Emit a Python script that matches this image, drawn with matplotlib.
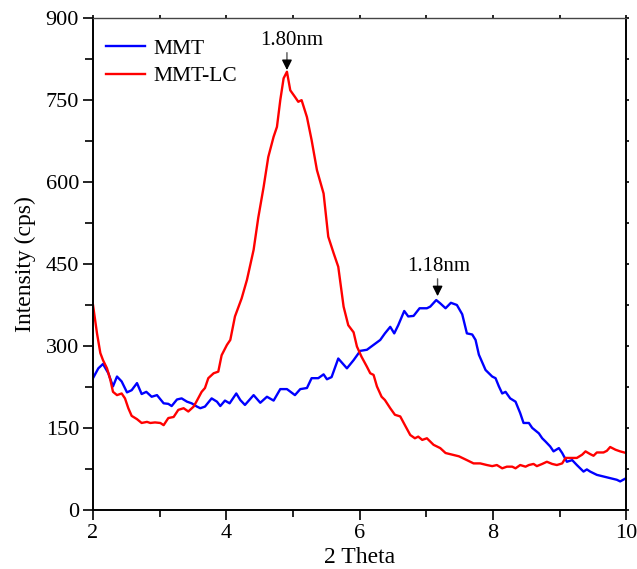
import matplotlib.pyplot as plt
import numpy as np
from matplotlib.ticker import MultipleLocator

plt.rcParams['font.family'] = ['Liberation Serif', 'DejaVu Serif']

# MMT curve (2 theta, intensity)
mmt_x = [2.00, 2.08, 2.15, 2.23, 2.30, 2.36, 2.43, 2.51, 2.58, 2.66, 2.73, 2.80, 2.88, 2.96,
         3.06, 3.13, 3.18, 3.26, 3.33, 3.41, 3.48, 3.56, 3.61, 3.68, 3.78, 3.86, 3.91, 3.98,
         4.05, 4.15, 4.21, 4.28, 4.41, 4.51, 4.61, 4.71, 4.81, 4.91, 5.03, 5.11, 5.21, 5.28,
         5.38, 5.46, 5.51, 5.58, 5.68, 5.81, 5.91, 6.01, 6.11, 6.21, 6.31, 6.38, 6.46, 6.52,
         6.58, 6.67, 6.73, 6.81, 6.90, 7.01, 7.06, 7.15, 7.21, 7.29, 7.37, 7.46, 7.54, 7.61,
         7.69, 7.74, 7.79, 7.89, 7.99, 8.04, 8.09, 8.14, 8.19, 8.26, 8.34, 8.41, 8.46, 8.54,
         8.59, 8.69, 8.74, 8.79, 8.86, 8.91, 8.99, 9.04, 9.11, 9.19, 9.26, 9.36, 9.41, 9.46,
         9.56, 9.66, 9.76, 9.86, 9.91, 10.00]
mmt_y = [241, 259, 267, 250, 226, 244, 235, 215, 219, 232, 212, 216, 207, 210,
         195, 194, 190, 202, 204, 198, 195, 189, 186, 189, 204, 198, 190, 200,
         195, 213, 201, 192, 210, 196, 207, 200, 221, 221, 210, 221, 223, 241,
         241, 248, 239, 243, 277, 259, 274, 291, 293, 302, 311, 323, 335, 323,
         338, 364, 354, 355, 369, 369, 372, 384, 378, 369, 379, 375, 358, 323,
         321, 311, 284, 256, 244, 241, 226, 213, 216, 204, 198, 177, 159, 159,
         150, 140, 131, 125, 116, 107, 113, 104, 88, 91, 82, 70, 74, 70,
         64, 61, 58, 55, 52, 58]

# MMT-LC curve
lc_x = [2.00, 2.06, 2.11, 2.15, 2.21, 2.26, 2.30, 2.36, 2.43, 2.48, 2.53, 2.58, 2.66, 2.73,
        2.81, 2.86, 2.93, 3.01, 3.06, 3.13, 3.21, 3.28, 3.36, 3.43, 3.51, 3.56, 3.63, 3.68,
        3.73, 3.81, 3.88, 3.93, 4.01, 4.06, 4.13, 4.23, 4.31, 4.41, 4.48, 4.56, 4.63, 4.71,
        4.76, 4.81, 4.86, 4.91, 4.96, 5.03, 5.08, 5.13, 5.21, 5.28, 5.36, 5.46, 5.53, 5.61,
        5.68, 5.76, 5.83, 5.91, 5.96, 6.03, 6.11, 6.16, 6.21, 6.26, 6.33, 6.38, 6.46, 6.53,
        6.61, 6.68, 6.76, 6.83, 6.88, 6.94, 7.01, 7.06, 7.11, 7.21, 7.29, 7.39, 7.49, 7.61,
        7.71, 7.81, 7.91, 7.99, 8.06, 8.14, 8.21, 8.29, 8.34, 8.41, 8.49, 8.54, 8.61, 8.66,
        8.74, 8.81, 8.89, 8.96, 9.04, 9.09, 9.16, 9.26, 9.34, 9.39, 9.46, 9.51, 9.56, 9.66,
        9.71, 9.76, 9.84, 9.91, 10.00]
lc_y = [375, 323, 287, 274, 259, 238, 216, 210, 213, 204, 186, 172, 166, 159,
        161, 159, 160, 159, 155, 168, 170, 183, 186, 180, 189, 200, 216, 223,
        241, 250, 253, 283, 302, 311, 354, 387, 421, 476, 535, 591, 646, 683,
        701, 750, 790, 802, 768, 756, 747, 750, 719, 677, 622, 579, 500, 470,
        445, 372, 338, 325, 299, 280, 262, 250, 247, 226, 207, 201, 186, 174,
        171, 155, 137, 131, 134, 128, 131, 125, 119, 113, 104, 101, 98, 91,
        85, 85, 82, 80, 82, 76, 79, 79, 76, 82, 79, 82, 84, 80,
        84, 88, 84, 82, 85, 95, 95, 95, 101, 107, 102, 99, 105, 105,
        108, 115, 110, 107, 104]

fig = plt.figure(figsize=(6.37, 5.69), dpi=100)
ax = fig.add_axes([0.146, 0.104, 0.837, 0.864])

ax.plot(mmt_x, mmt_y, color='#0000ff', lw=1.7, label='MMT')
ax.plot(lc_x, lc_y, color='#ff0000', lw=1.7, label='MMT-LC')

# peak annotations: grey shaft, black head
for px, py, txt, tx in [(4.91, 800, '1.80nm', 4.98), (7.17, 386, '1.18nm', 7.18)]:
    ax.annotate('', xy=(px, py + 12), xytext=(px, py + 42),
                arrowprops=dict(arrowstyle='-', color='#555555', lw=1.0))
    ax.annotate('', xy=(px, py), xytext=(px, py + 16),
                arrowprops=dict(arrowstyle='-|>', color='black', lw=1.0, mutation_scale=15))
    ax.text(tx, py + 42, txt, ha='center', va='bottom', fontsize=15)

ax.set_xlim(2, 10)
ax.set_ylim(0, 900)
ax.xaxis.set_major_locator(MultipleLocator(2))
ax.xaxis.set_minor_locator(MultipleLocator(1))
ax.yaxis.set_major_locator(MultipleLocator(150))
ax.yaxis.set_minor_locator(MultipleLocator(75))
ax.tick_params(which='both', direction='out', labelsize=16, width=1.2, pad=3)
ax.tick_params(which='major', length=7)
ax.tick_params(which='minor', length=5)
ax.tick_params(axis='y', which='minor', length=6)

# short secondary ticks on top and right
ax.tick_params(axis='x', which='both', top=True, labeltop=False)
ax.tick_params(axis='y', which='both', right=True, labelright=False)
for s in ax.spines.values():
    s.set_linewidth(1.4)
ax.spines['top'].set_color('#444444')
ax.spines['top'].set_linewidth(1.0)
for t in ax.xaxis.get_major_ticks() + ax.xaxis.get_minor_ticks():
    t.tick2line.set_markersize(2)
    t.tick2line.set_color('#444444')
for t in ax.yaxis.get_major_ticks() + ax.yaxis.get_minor_ticks():
    t.tick2line.set_markersize(2)

ax.set_xlabel('2 Theta', fontsize=17, labelpad=3)
ax.set_ylabel('Intensity (cps)', fontsize=17)
ax.yaxis.set_label_coords(-0.107, 0.5)

ax.legend(loc='upper left', bbox_to_anchor=(0.0, 0.985), frameon=False, fontsize=15.5,
          handlelength=1.8, handletextpad=0.4, borderaxespad=0.2, labelspacing=0.35)

fig.savefig('out.png', dpi=100)
